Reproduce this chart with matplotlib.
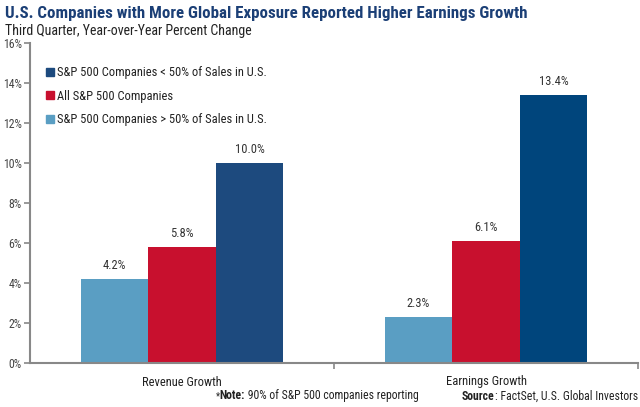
import numpy as np
import matplotlib.pyplot as plt
from matplotlib.patches import Patch

categories = ["Revenue Growth", "Earnings Growth"]
series_names = ["S&P 500 Companies > 50% of Sales in U.S.",
                "All S&P 500 Companies",
                "S&P 500 Companies < 50% of Sales in U.S."]
above50 = [4.2, 2.3]
all_sp = [5.8, 6.1]
below50 = [10.0, 13.4]
yticks = [0, 2, 4, 6, 8, 10, 12, 14, 16]

plt.rcParams['font.family'] = ['Roboto Condensed', 'DejaVu Sans']

light = "#5A9EC3"
red = "#C8102E"
navy = ["#1D4A7E", "#00457C"]

fig = plt.figure(figsize=(6.4, 4.07), dpi=100)
ax = fig.add_axes([30/640, 1-363/407, 608/640, 320/407])

x = np.arange(len(categories))
w = 0.222
b1 = ax.bar(x - w, above50, w, color=light)
b2 = ax.bar(x, all_sp, w, color=red)
b3 = ax.bar(x + w, below50, w, color=navy)

for bars in (b1, b2, b3):
    for r in bars:
        ax.text(r.get_x() + r.get_width()/2, r.get_height() + 0.35,
                "%.1f%%" % r.get_height(), ha='center', va='bottom',
                fontsize=9, color="#333333")

ax.set_xlim(-0.5, 1.5)
ax.set_ylim(0, 16)
ax.set_yticks(yticks)
ax.set_yticklabels(["%d%%" % v for v in yticks], fontsize=8.5, color="#444444")
ax.set_xticks(x)
ax.set_xticklabels(categories, fontsize=9, color="#222222")
ax.tick_params(axis='x', length=0, pad=9)
ax.set_xticks([0.5, 1.5], minor=True)
ax.tick_params(axis='x', which='minor', length=4, width=1.2, color="#888888")
ax.tick_params(axis='y', length=4, width=1.2, color="#888888", pad=2)

for s in ['top', 'right']:
    ax.spines[s].set_visible(False)
for s in ['left', 'bottom']:
    ax.spines[s].set_color("#888888")
    ax.spines[s].set_linewidth(1.5)

handles = [Patch(color=navy[0]), Patch(color=red), Patch(color=light)]
labels = [series_names[2], series_names[1], series_names[0]]
leg = ax.legend(handles, labels, loc='upper left', bbox_to_anchor=(0.012, 0.955),
                frameon=False, fontsize=9, handlelength=0.6, handleheight=0.6,
                handletextpad=0.3, labelspacing=0.85, borderpad=0.2)
for t in leg.get_texts():
    t.set_color("#222222")

fig.text(0.008, 0.985, "U.S. Companies with More Global Exposure Reported Higher Earnings Growth",
         fontsize=12.2, fontweight='bold', color="#1B3F76", va='top')
fig.text(0.008, 0.94, "Third Quarter, Year-over-Year Percent Change",
         fontsize=10, color="#222222", va='top')

# footnote pieces chained so they don't overlap
star = fig.text(0.337, 0.018, "*", fontsize=7, color="#222222", va='baseline')
t = ax.annotate("Note:", xy=(1, 0), xycoords=star, va='bottom', fontsize=8.5,
                fontweight='bold', color="#222222")
ax.annotate(" 90% of S&P 500 companies reporting", xy=(1, 0), xycoords=t,
            va='bottom', fontsize=8.5, color="#222222")
s = fig.text(0.722, 0.018, "Source", fontsize=8.5, fontweight='bold', color="#222222")
ax.annotate(": FactSet, U.S. Global Investors", xy=(1, 0), xycoords=s,
            va='bottom', fontsize=8.5, color="#222222")

fig.savefig("out.png", dpi=100)
